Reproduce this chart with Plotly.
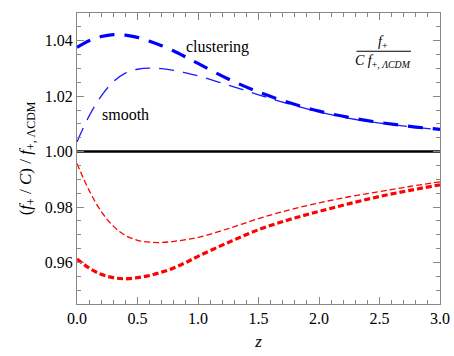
import plotly.graph_objects as go

z = [0.0, 0.1, 0.2, 0.3, 0.4, 0.5, 0.6, 0.7, 0.8, 0.9, 1.0, 1.25, 1.5, 1.75, 2.0, 2.25, 2.5, 2.75, 3.0]

blue_clustering = [1.0376, 1.0400, 1.0415, 1.0422, 1.0420, 1.0412, 1.0398, 1.0382, 1.0363, 1.0341, 1.0318, 1.0262, 1.0215, 1.0177, 1.0146, 1.0123, 1.0105, 1.0091, 1.0080]
blue_smooth = [1.0035, 1.0128, 1.0200, 1.0252, 1.0283, 1.0297, 1.0301, 1.0299, 1.0293, 1.0284, 1.0273, 1.0240, 1.0205, 1.0172, 1.0143, 1.0120, 1.0103, 1.0090, 1.0079]
red_smooth = [0.9957, 0.9860, 0.9784, 0.9731, 0.9697, 0.9680, 0.9673, 0.9672, 0.9676, 0.9682, 0.9690, 0.9722, 0.9758, 0.9789, 0.9815, 0.9837, 0.9856, 0.9874, 0.9891]
red_clustering = [0.9612, 0.9580, 0.9557, 0.9545, 0.9541, 0.9545, 0.9553, 0.9565, 0.9580, 0.9600, 0.9622, 0.9672, 0.9718, 0.9754, 0.9784, 0.9812, 0.9838, 0.9860, 0.9880]

x_ticks = [0.0, 0.5, 1.0, 1.5, 2.0, 2.5, 3.0]
y_ticks = [0.96, 0.98, 1.00, 1.02, 1.04]

font = "Liberation Serif"

fig = go.Figure()
fig.add_trace(go.Scatter(x=z, y=blue_smooth, mode="lines", line=dict(color="#1a1aff", width=1.3, dash="15px,9px", shape="spline")))
fig.add_trace(go.Scatter(x=z, y=blue_clustering, mode="lines", line=dict(color="#0000ff", width=3.2, dash="15px,10px", shape="spline")))
fig.add_trace(go.Scatter(x=z, y=red_smooth, mode="lines", line=dict(color="#ff0000", width=1.3, dash="6px,3px", shape="spline")))
fig.add_trace(go.Scatter(x=z, y=red_clustering, mode="lines", line=dict(color="#ff0000", width=3.2, dash="6px,3px", shape="spline")))
fig.add_trace(go.Scatter(x=[0, 3], y=[1.0, 1.0], mode="lines", line=dict(color="black", width=2.5)))

axis_common = dict(
    showgrid=False, zeroline=False, showline=True, linecolor="#888888", linewidth=1,
    mirror="allticks", ticks="inside", ticklen=7, tickcolor="#888888", automargin=False,
    tickfont=dict(family=font, size=16, color="black"),
)
fig.update_xaxes(range=[0, 3], tickvals=x_ticks, ticktext=[f"{v:.1f}" for v in x_ticks],
                 minor=dict(dtick=0.1, tick0=0, ticks="inside", ticklen=4, tickcolor="#888888"),
                 title=dict(text="<i>z</i>", font=dict(family=font, size=17, color="black"), standoff=8),
                 **axis_common)
fig.update_yaxes(range=[0.945, 1.05], tickvals=y_ticks, ticktext=[f"{v:.2f}" for v in y_ticks],
                 minor=dict(dtick=0.005, tick0=0.945, ticks="inside", ticklen=4, tickcolor="#888888"),
                 title=dict(text="(<i>f</i><sub>+</sub> / <i>C</i>) / <i>f</i><sub>+, ΛCDM</sub>",
                            font=dict(family=font, size=17, color="black"), standoff=8),
                 **axis_common)

fig.add_annotation(x=1.16, y=1.0378, text="clustering", showarrow=False,
                   font=dict(family=font, size=16, color="black"))
fig.add_annotation(x=0.4, y=1.0134, text="smooth", showarrow=False,
                   font=dict(family=font, size=16, color="black"))
fig.add_annotation(x=2.53, y=1.0394, text="<i>f</i><sub>+</sub>", showarrow=False,
                   font=dict(family=font, size=14, color="black"))
fig.add_annotation(x=2.53, y=1.0325, text="<i>C f</i><sub>+, <i>ΛCDM</i></sub>", showarrow=False,
                   font=dict(family=font, size=14, color="black"))
fig.add_shape(type="line", x0=2.31, x1=2.76, y0=1.0362, y1=1.0362, line=dict(color="black", width=1))

fig.update_layout(
    width=454, height=356, showlegend=False,
    font=dict(family=font),
    margin=dict(l=77, r=14, t=13, b=52),
    plot_bgcolor="white", paper_bgcolor="white",
)
fig.write_html("out.html", config={"displayModeBar": False},
               post_script="document.body.style.margin='0';document.body.style.padding='0';")
